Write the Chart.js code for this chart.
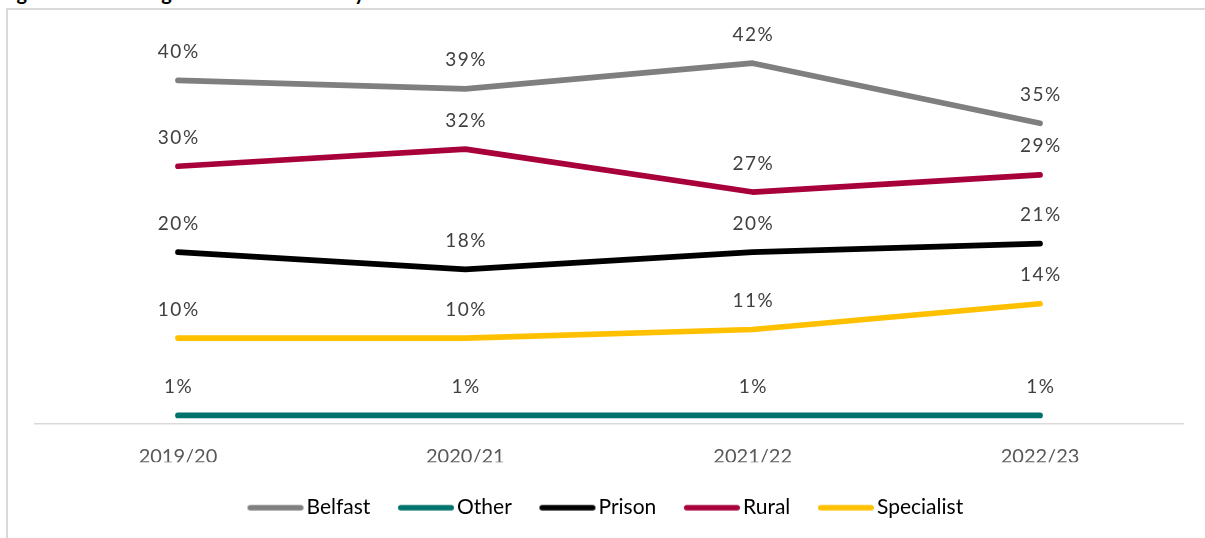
<!DOCTYPE html>
<html>
<head>
<meta charset="utf-8">
<script src="https://cdn.jsdelivr.net/npm/chart.js@4.4.1/dist/chart.umd.min.js"></script>
<style>
    html, body { margin: 0; padding: 0; background: #fff; overflow: hidden; }
    body { width: 1205px; height: 538px; position: relative; }
    #title {
        position: absolute; left: 0; top: -20px;
        font: bold 20px Lato, sans-serif; line-height: 24px; color: #000;
        white-space: nowrap;
    }
    #frame {
        position: absolute; left: 6px; top: 8px; width: 1300px; height: 700px;
        border: 2px solid #d9d9d9;
    }
    #resultChart { position: absolute; left: 0; top: 0; }
</style>
</head>
<body>
<div id="title">Figure 3: Percentage of cases received by directorate</div>
<div id="frame"></div>
<canvas id="resultChart" width="1205" height="538"></canvas>
<script>
// 年度ごとの割合（%）
const years = ['2019/20', '2020/21', '2021/22', '2022/23'];
const belfast = [40, 39, 42, 35];
const other = [1, 1, 1, 1];
const prison = [20, 18, 20, 21];
const rural = [30, 32, 27, 29];
const specialist = [10, 10, 11, 14];

const seriesNames = ['Belfast', 'Other', 'Prison', 'Rural', 'Specialist'];
const seriesColors = ['#7f7f7f', '#00736d', '#000000', '#a8003b', '#ffc000'];
const seriesData = [belfast, other, prison, rural, specialist];

// 凡例用の太線（丸い端）
function lineSwatch(color) {
    const c = document.createElement('canvas');
    c.width = 60;
    c.height = 8;
    const g = c.getContext('2d');
    g.strokeStyle = color;
    g.lineWidth = 5.6;
    g.lineCap = 'round';
    g.beginPath();
    g.moveTo(4.8, 4);
    g.lineTo(55.2, 4);
    g.stroke();
    return c;
}
const swatches = seriesColors.map(lineSwatch);

// 各点の上に「xx%」を描く
const valueLabels = {
    id: 'valueLabels',
    afterDatasetsDraw(chart) {
        const ctx = chart.ctx;
        const spacing = 1.5;
        ctx.save();
        ctx.font = '19px Lato, sans-serif';
        ctx.fillStyle = '#404040';
        ctx.textAlign = 'center';
        ctx.textBaseline = 'alphabetic';
        if ('letterSpacing' in ctx) ctx.letterSpacing = spacing + 'px';
        chart.data.datasets.forEach((ds, i) => {
            chart.getDatasetMeta(i).data.forEach((pt, j) => {
                ctx.fillText(ds.data[j] + '%', pt.x + spacing / 2, pt.y - 22.5);
            });
        });
        ctx.restore();
    }
};

const ctx = document.getElementById('resultChart');
const chart = new Chart(ctx, {
    type: 'line',
    data: {
        labels: years,
        datasets: seriesNames.map((name, i) => ({
            label: name,
            data: seriesData[i],
            borderColor: seriesColors[i],
            backgroundColor: seriesColors[i],
            borderWidth: 5.7,
            borderCapStyle: 'round',
            borderJoinStyle: 'round',
            pointRadius: 0,
            tension: 0,
            fill: false
        }))
    },
    options: {
        responsive: false,
        animation: false,
        events: [],
        layout: {
            padding: { left: 34.3, right: 21.3, top: 37.4, bottom: 9.8 }
        },
        scales: {
            x: {
                offset: true,
                grid: { display: false, drawTicks: false },
                border: { display: true, color: '#d9d9d9', width: 1.5 },
                ticks: {
                    padding: 20.7,
                    color: '#595959',
                    font: { family: 'Lato', size: 20 }
                },
                afterFit(scale) { scale.height = 38.2; }
            },
            y: {
                display: false,
                min: 0,
                max: 45
            }
        },
        plugins: {
            legend: {
                position: 'bottom',
                labels: {
                    usePointStyle: true,
                    pointStyleWidth: 41.2,
                    padding: 35,
                    color: '#595959',
                    font: { family: 'Lato', size: 21 },
                    generateLabels: (chart) => chart.data.datasets.map((ds, i) => ({
                        text: ds.label,
                        pointStyle: swatches[i],
                        fillStyle: ds.borderColor,
                        strokeStyle: ds.borderColor,
                        lineWidth: 0,
                        hidden: false,
                        datasetIndex: i
                    }))
                }
            },
            tooltip: { enabled: false }
        }
    },
    plugins: [valueLabels]
});
</script>
</body>
</html>
